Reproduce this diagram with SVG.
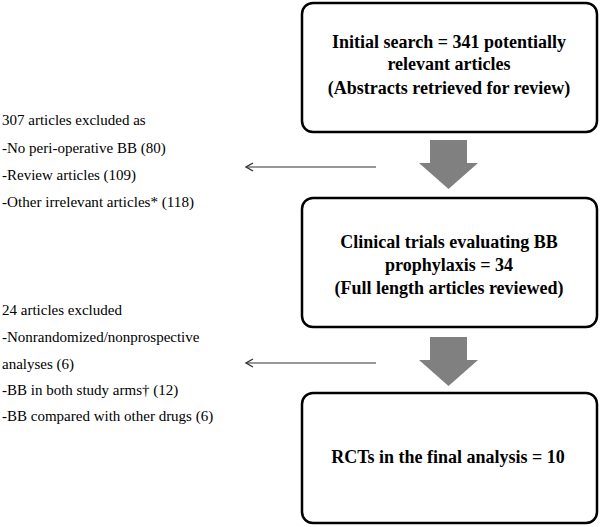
<svg xmlns="http://www.w3.org/2000/svg" width="600" height="527" viewBox="0 0 600 527">
<defs>
<style>
.box{fill:#fff;stroke:#000;stroke-width:2.5}
.bt{font-family:"Liberation Serif","DejaVu Serif",serif;font-weight:bold;font-size:18px;text-anchor:middle;fill:#000}
.lt{font-family:"Liberation Serif","DejaVu Serif",serif;font-size:15px;fill:#000}
.thin{stroke:#333;stroke-width:1.2;fill:none}
.gray{fill:#808080}
</style>
<marker id="open" markerWidth="10" markerHeight="10" refX="8" refY="5" orient="auto" markerUnits="userSpaceOnUse">
<path d="M1,1 L8,5 L1,9" fill="none" stroke="#333" stroke-width="1.4"/>
</marker>
</defs>
<g id="node-initial">
<rect class="box" x="302" y="3" width="295" height="129" rx="11"/>
<text class="bt" x="449" y="48">Initial search = 341 potentially</text>
<text class="bt" x="449" y="70">relevant articles</text>
<text class="bt" x="449" y="94">(Abstracts retrieved for review)</text>
</g>
<g id="node-clinical">
<rect class="box" x="302" y="198" width="295" height="129" rx="11"/>
<text class="bt" x="449" y="248">Clinical trials evaluating BB</text>
<text class="bt" x="449" y="271">prophylaxis = 34</text>
<text class="bt" x="449" y="294">(Full length articles reviewed)</text>
</g>
<g id="node-rct">
<rect class="box" x="302" y="393" width="295" height="130" rx="11"/>
<text class="bt" x="448" y="463">RCTs in the final analysis = 10</text>
</g>
<g id="excluded-1">
<text class="lt" x="2" y="125">307 articles excluded as</text>
<text class="lt" x="2" y="153">-No peri-operative BB (80)</text>
<text class="lt" x="2" y="180">-Review articles (109)</text>
<text class="lt" x="2" y="207" textLength="192" lengthAdjust="spacingAndGlyphs">-Other irrelevant articles* (118)</text>
</g>
<g id="excluded-2">
<text class="lt" x="2" y="315">24 articles excluded</text>
<text class="lt" x="2" y="342">-Nonrandomized/nonprospective</text>
<text class="lt" x="2" y="369">analyses (6)</text>
<text class="lt" x="2" y="395">-BB in both study arms† (12)</text>
<text class="lt" x="2" y="421">-BB compared with other drugs (6)</text>
</g>
<g id="connectors">
<path class="gray" d="M430,140 H467 V163 H478 L448.5,189 L419,163 H430 Z"/>
<path class="gray" d="M430,337 H467 V360 H478 L448.5,386 L419,360 H430 Z"/>
<line class="thin" x1="376" y1="167" x2="246" y2="167" marker-end="url(#open)"/>
<line class="thin" x1="376" y1="363" x2="246" y2="363" marker-end="url(#open)"/>
</g>
</svg>
